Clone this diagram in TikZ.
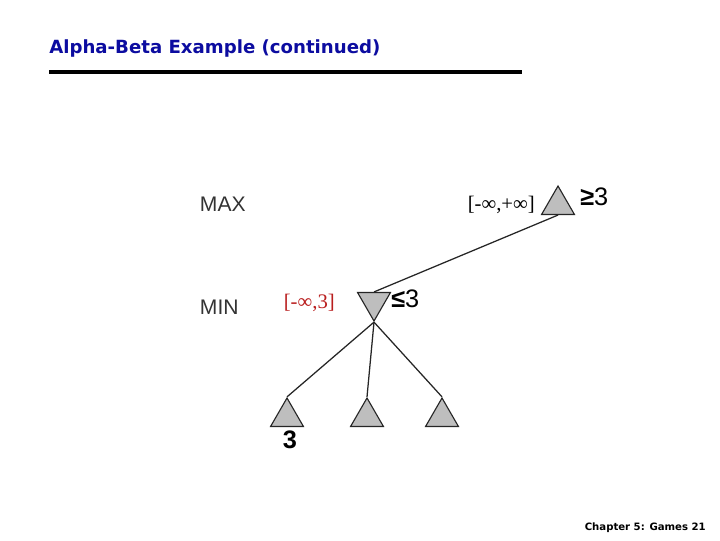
\documentclass[tikz,border=0pt]{standalone}
\usepackage{fontspec}
\setmainfont{Liberation Sans}
\newfontfamily\titlefont{DejaVu Sans}
\newfontfamily\serffont{Liberation Serif}
\usetikzlibrary{shapes.geometric,positioning}
\definecolor{titleblue}{RGB}{12,12,160}
\definecolor{boundred}{RGB}{185,30,30}
\definecolor{trigray}{RGB}{190,190,190}
\begin{document}
\begin{tikzpicture}[x=0.025cm,y=-0.025cm,
  tri/.style={regular polygon,regular polygon sides=3,minimum size=38*0.025cm,
    inner sep=0pt,draw=black!85,fill=trigray,line width=0.8pt},
  mintri/.style={tri,shape border rotate=180},
  lvl/.style={font=\fontsize{15}{17}\selectfont,text=black!80,anchor=west},
  val/.style={font=\fontsize{18}{20}\selectfont,inner sep=0pt},
  bound/.style={font=\serffont\fontsize{14.7}{16}\selectfont,inner sep=0pt},
  edge/.style={line width=0.9pt,black!85}]
\useasboundingbox (0,0) rectangle (720,540);
% title and rule
\node[anchor=west,inner sep=0pt,text=titleblue,font=\titlefont\bfseries\fontsize{12.9}{14}\selectfont] (title) at (49,48) {Alpha-Beta Example (continued)};
\draw[line width=2.2pt] (49,72) -- (522,72);
% levels
\node[lvl] (maxlbl) at (195,204) {MAX};
\node[lvl] (minlbl) at (195,307) {MIN};
% tree
\node[tri] (root) at (558,205) {};
\node[mintri] (min) at (374,302) {};
\node[tri] (leafa) at (287,417) {};
\node[tri] (leafb) at (367,417) {};
\node[tri] (leafc) at (442,417) {};
\draw[edge] (root.side 2) -- (min.side 2);
\draw[edge] (min.corner 1) -- (leafa.corner 1);
\draw[edge] (min.corner 1) -- (leafb.corner 1);
\draw[edge] (min.corner 1) -- (leafc.corner 1);
% values and bounds
\node[val,anchor=west] (rootval) at (580,197) {\textbf{≥}3};
\node[val,anchor=west] (minval) at (391,299) {\textbf{≤}3};
\node[font=\bfseries\fontsize{18}{20}\selectfont,inner sep=0pt] (leafaval) at (290,440) {3};
\node[bound,anchor=east] (rootbd) at (535,205) {[-∞,+∞]};
\node[bound,anchor=east,text=boundred] (minbd) at (335,303) {[-∞,3]};
% footer
\node[anchor=east,inner sep=0pt,font=\titlefont\bfseries\fontsize{7.2}{8}\selectfont] (foot) at (706,528) {Chapter 5: Games 21};
\end{tikzpicture}
\end{document}
